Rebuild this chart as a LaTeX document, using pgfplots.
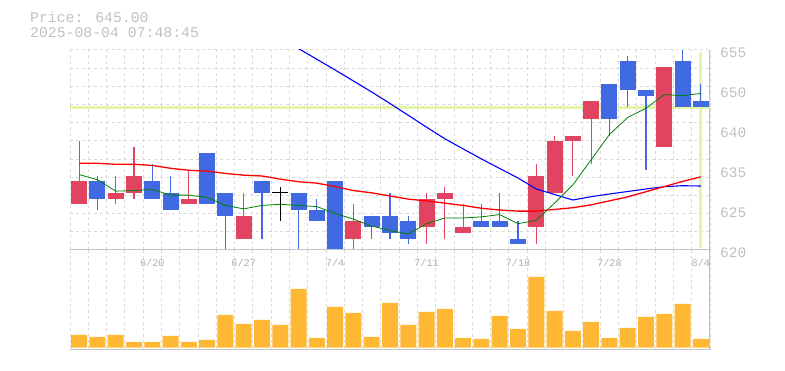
\documentclass[border=0pt]{standalone}
\usepackage{pgfplots}
\pgfplotsset{compat=1.18}
\usepackage{pgfplotstable}
\usepackage{fontspec}
\setmainfont{Liberation Mono}
\definecolor{upc}{RGB}{225,68,96}
\definecolor{dnc}{RGB}{65,105,225}
\definecolor{volc}{RGB}{254,184,52}
\definecolor{gridc}{RGB}{218,218,218}
\definecolor{bordc}{RGB}{195,195,195}
\definecolor{txtc}{RGB}{192,192,192}
\definecolor{datec}{RGB}{175,175,175}
\definecolor{crossc}{RGB}{228,245,165}

\pgfplotstableread{
x o h l c
0 628 639 628 632
2 629 633 628 630
3 630 638 629 633
6 628 634 628 629
9 622 630 622 626
15 622 628 620 625
19 624 630 621 629
20 629 631 622 630
21 623 628 623 624
25 624 635 621 633
26 630 640 630 639
27 639 640 633 640
28 643 646 635 646
32 638 652 638 652
}\upcandles

\pgfplotstableread{
x o h l c
1 632 633 627 629
4 632 635 629 629
5 630 633 627 627
7 637 637 628 628
8 630 630 620 626
10 632 632 622 630
12 630 630 620 627
13 627 629 625 625
14 632 632 620 620
16 626 626 622 624
17 626 630 622 623
18 625 626 621 622
22 625 628 624 624
23 625 630 624 624
24 622 625 621 621
29 649 649 640 643
30 653 654 645 648
31 648 648 634 647
33 653 655 645 645
34 646 649 645 645
}\dncandles

\pgfplotstableread{
x o h l c
11 630 631 625 630
}\doji

\pgfplotstableread{
x y
0 633.2
1 632.3
2 630.3
3 630.4
4 630.6
5 629.6
6 629.6
7 629.2
8 627.8
9 627.2
10 627.8
11 628.0
12 627.8
13 627.6
14 626.4
15 625.4
16 624.2
17 623.4
18 622.8
19 624.6
20 625.6
21 625.6
22 625.8
23 626.2
24 624.6
25 625.2
26 628.2
27 631.4
28 635.8
29 640.2
30 643.2
31 644.8
32 647.2
33 647.0
34 647.4
}\maA

\pgfplotstableread{
x y
0 635.17
1 635.17
2 635.0
3 635.0
4 634.8
5 634.3
6 633.95
7 633.8
8 633.4
9 633.1
10 632.95
11 632.4
12 631.95
13 631.7
14 631.1
15 630.4
16 630.0
17 629.45
18 628.9
19 628.6
20 628.2
21 627.8
22 627.3
23 627.0
24 626.8
25 626.8
26 627.1
27 627.4
28 627.9
29 628.6
30 629.3
31 630.2
32 631.1
33 632.0
34 632.8
}\maB

\pgfplotstableread{
x y
12 655.25
13 653.37
14 651.5
15 649.58
16 647.65
17 645.64
18 643.57
19 641.49
20 639.46
21 637.69
22 635.94
23 634.26
24 632.6
25 630.68
26 629.71
27 628.75
28 629.33
29 629.8
30 630.24
31 630.68
32 631.08
33 631.25
34 631.2
}\maC

\pgfplotstableread{
x v
0 12.7
1 10.7
2 12.7
3 5.7
4 5.7
5 11.7
6 5.7
7 7.7
8 32.7
9 23.7
10 27.7
11 22.7
12 58.7
13 9.7
14 40.7
15 34.7
16 10.7
17 44.7
18 22.7
19 35.7
20 38.7
21 9.7
22 8.7
23 31.7
24 18.7
25 70.7
26 36.7
27 16.7
28 25.7
29 9.7
30 19.7
31 30.7
32 33.7
33 43.7
34 8.7
}\vols

\begin{document}
\begin{tikzpicture}[x=1pt,y=1pt]
\useasboundingbox (0,0) rectangle (785,370);
\node[anchor=base west, inner sep=0pt, font=\fontsize{14.8}{15}\selectfont, text=txtc] at (30,347.3) {Price: 645.00};
\node[anchor=base west, inner sep=0pt, font=\fontsize{14.8}{15}\selectfont, text=txtc] at (30,332.3) {2025-08-04 07:48:45};

% price panel
\begin{axis}[
  at={(70pt,120pt)}, anchor=south west, scale only axis,
  width=640pt, height=200pt,
  xmin=-0.5, xmax=34.5, ymin=620, ymax=655,
  axis line style={draw=none},
  xtick={-0.5,0.5,...,34.5}, xticklabels={},
  xmajorgrids,
  ytick={620,627,634,641,648,655},
  yticklabels={\textnormal{620},\textnormal{625},\textnormal{635},\textnormal{640},\textnormal{650},\textnormal{655}},
  yticklabel pos=right,
  minor ytick={623.1818,626.3636,629.5455,632.7273,635.9091,639.0909,642.2727,645.4545,648.6364,651.8182,655},
  yminorgrids,
  major tick length=0pt, minor tick length=0pt,
  grid style={gridc, dash pattern=on 3pt off 3pt, line width=1pt},
  major grid style={gridc, dash pattern=on 3pt off 3pt, line width=1pt},
  minor grid style={gridc, dash pattern=on 3pt off 3pt, line width=1pt},
  yticklabel style={font=\fontsize{14.5}{15}\selectfont\bfseries, text=txtc, inner sep=0pt, anchor=west, xshift=10pt, yshift=-2.5pt},
]
% crosshair
\addplot[crossc, line width=3pt, mark=none, forget plot] coordinates {(-0.5,645) (34.5,645)};
\addplot[crossc, line width=3pt, mark=none, forget plot] coordinates {(34,620.3) (34,654.7)};
% wicks
\addplot[draw=none, mark=none, forget plot, error bars/.cd, y dir=both, y explicit, error mark=none, error bar style={draw=upc, line width=1.1pt}]
  table[x=x, y expr={(\thisrow{h}+\thisrow{l})/2}, y error expr={(\thisrow{h}-\thisrow{l})/2}] {\upcandles};
\addplot[draw=none, mark=none, forget plot, error bars/.cd, y dir=both, y explicit, error mark=none, error bar style={draw=dnc, line width=1.1pt}]
  table[x=x, y expr={(\thisrow{h}+\thisrow{l})/2}, y error expr={(\thisrow{h}-\thisrow{l})/2}] {\dncandles};
% bodies
\addplot[draw=none, mark=none, forget plot, error bars/.cd, y dir=both, y explicit, error mark=none, error bar style={draw=upc, line width=16pt}]
  table[x=x, y expr={(\thisrow{o}+\thisrow{c})/2}, y error expr={abs(\thisrow{c}-\thisrow{o})/2}] {\upcandles};
\addplot[draw=none, mark=none, forget plot, error bars/.cd, y dir=both, y explicit, error mark=none, error bar style={draw=dnc, line width=16pt}]
  table[x=x, y expr={(\thisrow{o}+\thisrow{c})/2}, y error expr={abs(\thisrow{c}-\thisrow{o})/2}] {\dncandles};
% doji
\addplot[draw=none, mark=none, forget plot, error bars/.cd, y dir=both, y explicit, error mark=none, error bar style={draw=black, line width=1.1pt}]
  table[x=x, y expr={(\thisrow{h}+\thisrow{l})/2}, y error expr={(\thisrow{h}-\thisrow{l})/2}] {\doji};
\addplot[draw=none, mark=none, forget plot, error bars/.cd, x dir=both, x explicit, error mark=none, error bar style={draw=black, line width=1.1pt}]
  table[x=x, y=c, x error expr={0.4375}] {\doji};
% moving averages
\addplot[blue, line width=1.1pt, mark=none] table[x=x,y=y] {\maC};
\addplot[red, line width=1.3pt, mark=none] table[x=x,y=y] {\maB};
\addplot[green!50!black, line width=0.8pt, mark=none] table[x=x,y=y] {\maA};
\draw[bordc, line width=1.2pt] (rel axis cs:1,0) -- (rel axis cs:1,1);
\draw[bordc, line width=1.2pt] (rel axis cs:0,0) -- (rel axis cs:1,0);
\end{axis}

% volume panel
\begin{axis}[
  at={(70pt,20.7pt)}, anchor=south west, scale only axis,
  width=640pt, height=99.3pt,
  xmin=-0.5, xmax=34.5, ymin=-1.6, ymax=97.7,
  axis line style={draw=none},
  xtick={-0.5,0.5,...,34.5}, xticklabels={},
  ytick=\empty,
  xmajorgrids,
  major tick length=0pt,
  major grid style={gridc, dash pattern=on 3pt off 3pt, line width=1pt},
]
\addplot[ybar, bar width=16pt, fill=volc, draw=none, bar shift=0pt] table[x=x,y=v] {\vols};
\draw[bordc, line width=1.2pt] (rel axis cs:1,0) -- (rel axis cs:1,1);
\draw[bordc, line width=1.2pt] (rel axis cs:0,0) -- (rel axis cs:1,0);
\node[font=\fontsize{10.2}{11}\selectfont, text=datec] at (axis cs:4,85) {6/20};
\node[font=\fontsize{10.2}{11}\selectfont, text=datec] at (axis cs:9,85) {6/27};
\node[font=\fontsize{10.2}{11}\selectfont, text=datec] at (axis cs:14,85) {7/4};
\node[font=\fontsize{10.2}{11}\selectfont, text=datec] at (axis cs:19,85) {7/11};
\node[font=\fontsize{10.2}{11}\selectfont, text=datec] at (axis cs:24,85) {7/18};
\node[font=\fontsize{10.2}{11}\selectfont, text=datec] at (axis cs:29,85) {7/28};
\node[font=\fontsize{10.2}{11}\selectfont, text=datec] at (axis cs:34,85) {8/4};
\end{axis}
\end{tikzpicture}
\end{document}
